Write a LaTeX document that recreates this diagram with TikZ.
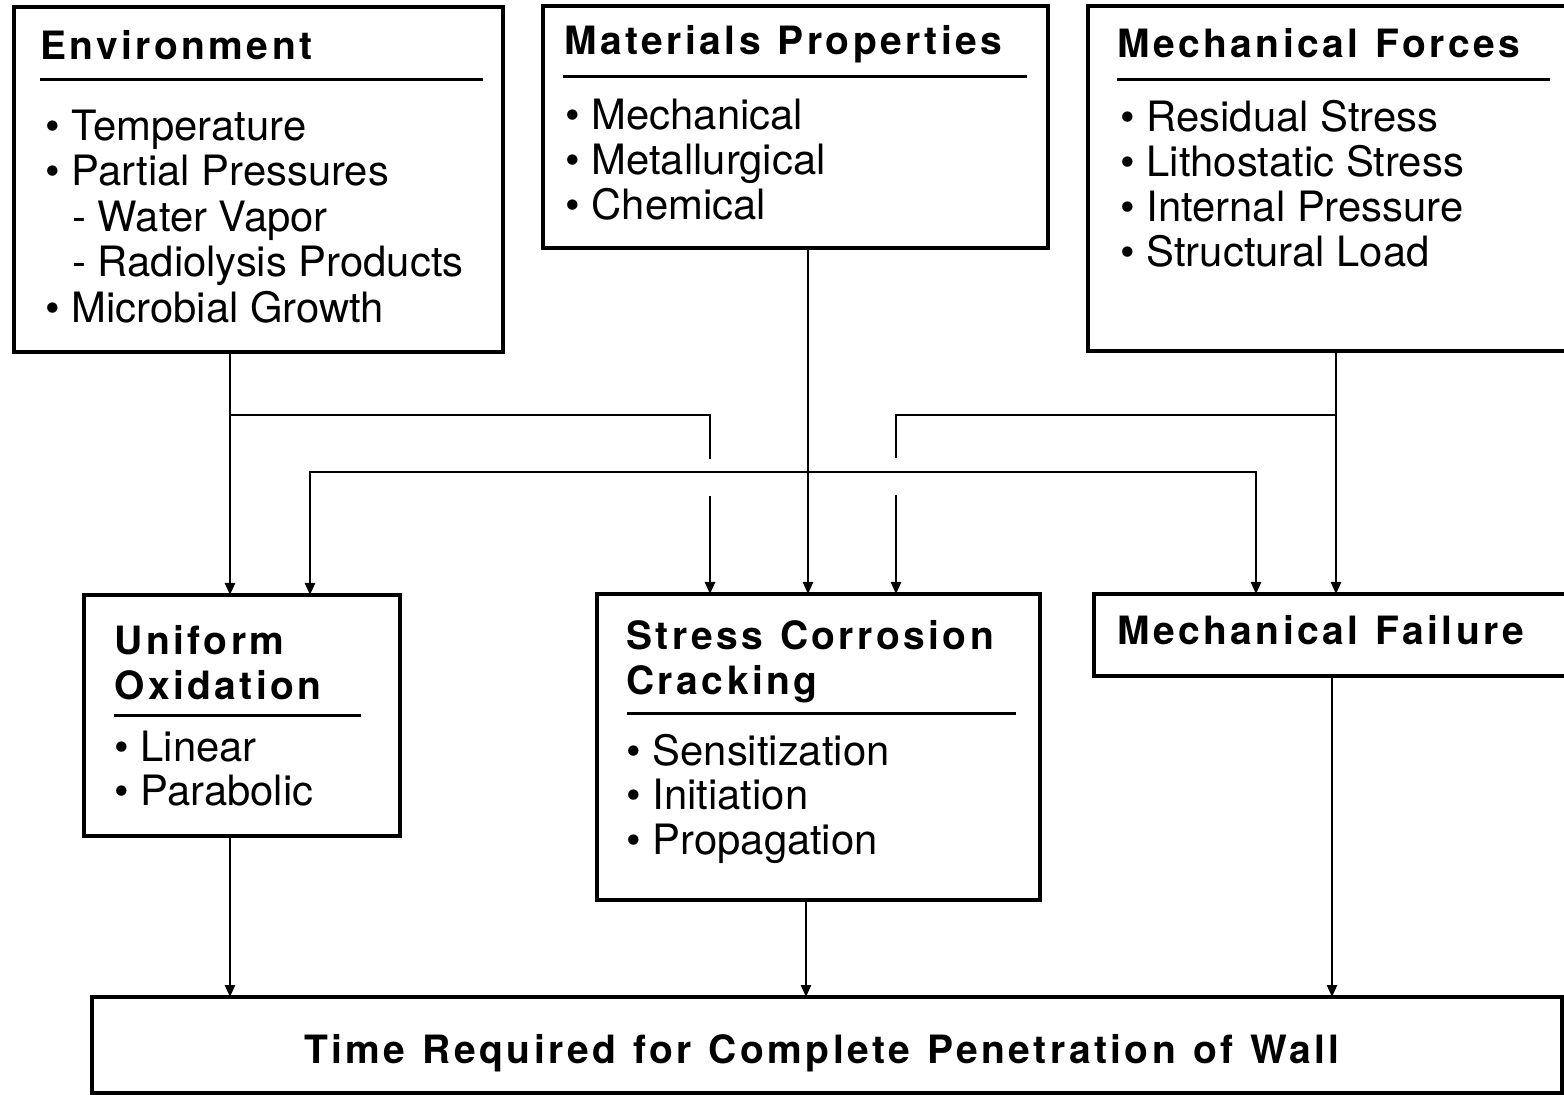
\documentclass[tikz,border=0pt]{standalone}
\usepackage{fontspec}
\setmainfont{TeX Gyre Heros}
\newfontfamily\titlefont[LetterSpace=8.8,WordSpace=1.2]{TeX Gyre Heros}
\usetikzlibrary{arrows.meta}
\tikzset{
 box/.style={draw, line width=1.75pt, inner sep=0pt, outer sep=0pt},
 ttl/.style={anchor=base west, inner sep=0pt, font=\titlefont\bfseries\fontsize{19.5}{22}\selectfont},
 itm/.style={anchor=base west, inner sep=0pt, font=\fontsize{20.9}{22}\selectfont},
 uline/.style={line width=1.5pt},
 conn/.style={line width=1.2pt},
 arr/.style={conn, -{Triangle[width=5pt,length=6pt]}},
}
\begin{document}
\begin{tikzpicture}[x=0.5pt,y=-0.5pt]
\useasboundingbox (0,0) rectangle (1564,1095);
% boxes
\node[box, minimum width=244.5pt, minimum height=172.5pt] (env) at (258.5,179.5) {};
\node[box, minimum width=252.5pt, minimum height=121pt] (mat) at (795.5,127) {};
\node[box, minimum width=256pt, minimum height=172.5pt] (mech) at (1344,178.5) {};
\node[box, minimum width=158pt, minimum height=120.5pt] (uo) at (242,715.5) {};
\node[box, minimum width=221.5pt, minimum height=153pt] (scc) at (818.5,747) {};
\node[box, minimum width=253pt, minimum height=41pt] (mf) at (1347,635) {};
\node[box, minimum width=735pt, minimum height=48pt] (time) at (827,1045) {};
% Environment
\node[ttl] (envt) at (40,60) {Environment};
\draw[uline] (40,80) -- (483,80);
\node[itm] (e1) at (45,141) {\textbullet\ Temperature};
\node[itm] (e2) at (45,186) {\textbullet\ Partial Pressures};
\node[itm] (e3) at (72,232) {- Water Vapor};
\node[itm] (e4) at (72,277) {- Radiolysis Products};
\node[itm] (e5) at (45,323) {\textbullet\ Microbial Growth};
% Materials
\node[ttl] (matt) at (564,55) {Materials Properties};
\draw[uline] (563,77) -- (1027,77);
\node[itm] (m1t) at (565,130) {\textbullet\ Mechanical};
\node[itm] (m2t) at (565,175) {\textbullet\ Metallurgical};
\node[itm] (m3t) at (565,220) {\textbullet\ Chemical};
% Mechanical forces
\node[ttl] (mecht) at (1117,58) {Mechanical Forces};
\draw[uline] (1117,80) -- (1550,80);
\node[itm] (f1) at (1120,132) {\textbullet\ Residual Stress};
\node[itm] (f2) at (1120,177) {\textbullet\ Lithostatic Stress};
\node[itm] (f3) at (1120,222) {\textbullet\ Internal Pressure};
\node[itm] (f4) at (1120,267) {\textbullet\ Structural Load};
% Uniform oxidation
\node[ttl] (uot1) at (114,655) {Uniform};
\node[ttl] (uot2) at (114,700) {Oxidation};
\draw[uline] (114,716) -- (361,716);
\node[itm] (u1) at (114,762) {\textbullet\ Linear};
\node[itm] (u2) at (114,806) {\textbullet\ Parabolic};
% SCC
\node[ttl] (sct1) at (626,650) {Stress Corrosion};
\node[ttl] (sct2) at (626,695) {Cracking};
\draw[uline] (627,714) -- (1016,714);
\node[itm] (s1) at (626,766) {\textbullet\ Sensitization};
\node[itm] (s2) at (626,810) {\textbullet\ Initiation};
\node[itm] (s3) at (626,855) {\textbullet\ Propagation};
% Mechanical failure
\node[ttl] (mft) at (1117,645) {Mechanical Failure};
% Time
\node[ttl, anchor=base] (tt) at (822,1063) {Time Required for Complete Penetration of Wall};
% connectors
\coordinate (j1) at (230,415);
\coordinate (j2) at (710,415);
\coordinate (g1) at (710,459);
\coordinate (g2) at (710,496);
\coordinate (m1) at (808,472);
\coordinate (m2) at (310,472);
\coordinate (m3) at (1256,472);
\coordinate (k1) at (1336,415);
\coordinate (k2) at (896,415);
\coordinate (k3) at (896,458);
\coordinate (k4) at (896,495);
\coordinate (b1) at (230,0);
\coordinate (b2) at (806,0);
\coordinate (b3) at (1332,0);
\draw[arr] (env.south -| j1) -- (uo.north -| j1);
\draw[conn] (j1) -- (j2) -- (g1);
\draw[arr] (g2) -- (scc.north -| g2);
\draw[arr] (mat.south -| m1) -- (scc.north -| m1);
\draw[arr] (m1) -- (m2) -- (uo.north -| m2);
\draw[arr] (m1) -- (m3) -- (mf.north -| m3);
\draw[arr] (mech.south -| k1) -- (mf.north -| k1);
\draw[conn] (k1) -- (k2) -- (k3);
\draw[arr] (k4) -- (scc.north -| k4);
\draw[arr] (uo.south -| b1) -- (time.north -| b1);
\draw[arr] (scc.south -| b2) -- (time.north -| b2);
\draw[arr] (mf.south -| b3) -- (time.north -| b3);
\end{tikzpicture}
\end{document}
